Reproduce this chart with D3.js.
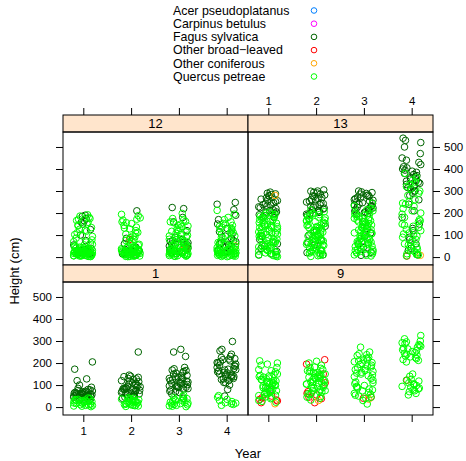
<!DOCTYPE html>
<html>
<head>
<meta charset="utf-8">
<script src="https://cdn.jsdelivr.net/npm/d3@7"></script>
<style>
  body { margin: 0; background: #fff; }
  svg { font-family: "Liberation Sans", Arial, sans-serif; }
</style>
</head>
<body>
<svg id="chart" width="466" height="461"></svg>
<script>
// tree heights by plot, species and year (lattice xyplot, jittered x)
var years = [1, 2, 3, 4];
var plots = ["12", "13", "1", "9"];
var species = ["Acer pseudoplatanus", "Carpinus betulus", "Fagus sylvatica",
               "Other broad\u2212leaved", "Other coniferous", "Quercus petreae"];
var speciesColors = ["#0080ff", "#ff00ff", "#006400", "#ff0000", "#ffa500", "#00ff00"];
var yTicks = [0, 100, 200, 300, 400, 500];

// hand-picked jitter offsets (in year units)
var jitter = [-0.17, 0.10, -0.04, 0.19, -0.14, 0.02, 0.15, -0.10, 0.06, -0.20, 0.12, -0.02, 0.18, -0.07,
              0.04, -0.15, 0.09, -0.11, 0.19, -0.05, 0.14, -0.18, 0.03, 0.10, -0.13, 0.16, -0.03, 0.07,
              -0.20, 0.11, -0.08, 0.05, -0.15, 0.17, -0.06, 0.01, -0.11, 0.15, -0.19, 0.08, -0.01];

// plot 12
var plot12Fagus = [
  [18, 22, 26, 30, 34, 40, 55, 75, 100, 125, 150, 158, 165, 175, 185, 190, 12, 16, 24],
  [15, 18, 22, 25, 28, 32, 38, 45, 60, 85, 210, 10, 14, 20, 26, 30],
  [20, 25, 30, 35, 40, 45, 50, 55, 60, 65, 70, 75, 80, 90, 120, 160, 180, 220, 225, 28, 42, 58, 66, 15],
  [20, 25, 35, 45, 55, 65, 75, 85, 95, 105, 115, 130, 150, 170, 190, 215, 240, 248, 60, 70, 30]
];
var plot12Broad = [[], [80], [38], []];
var plot12Conif = [[], [], [32], [50]];
var plot12Quercus = [
  [4, 6, 8, 10, 12, 14, 16, 18, 20, 22, 24, 26, 28, 30, 33, 36, 40, 44, 48, 52, 58, 64, 70, 78, 86, 94, 102,
   110, 118, 126, 134, 142, 150, 158, 166, 172, 180, 186, 192, 5, 9, 13, 17, 21, 25, 29, 35, 42, 55, 68, 96,
   122, 145, 175, 3, 7, 11, 15, 19, 23, 27, 31, 2, 6, 10, 14, 18, 24, 30, 37, 5, 9, 13, 17, 21, 26, 32, 39, 45],
  [3, 6, 9, 12, 15, 18, 21, 24, 27, 30, 34, 38, 43, 48, 54, 60, 66, 73, 80, 88, 96, 104, 112, 120, 128, 136,
   144, 152, 160, 168, 178, 188, 194, 5, 11, 17, 23, 29, 36, 45, 58, 75, 92, 108, 132, 156, 172, 2, 8, 14,
   20, 26, 32, 4, 10, 16, 22, 28, 35, 7, 13, 19, 25, 31, 40, 3, 9, 15, 21, 27],
  [4, 7, 10, 13, 16, 19, 22, 25, 28, 32, 36, 40, 45, 50, 55, 60, 66, 72, 78, 84, 90, 96, 102, 108, 114, 120,
   126, 132, 138, 144, 150, 156, 162, 168, 6, 12, 18, 24, 30, 38, 47, 62, 81, 99, 117, 141, 160, 175, 198,
   3, 9, 15, 21, 27, 33, 5, 11, 17, 23, 29, 42, 8, 14, 20, 26, 52, 70, 88],
  [3, 6, 9, 12, 15, 18, 21, 25, 29, 33, 38, 43, 48, 54, 60, 66, 72, 80, 88, 96, 104, 112, 120, 128, 136, 144,
   152, 160, 170, 180, 195, 212, 5, 10, 16, 22, 28, 35, 45, 58, 74, 90, 110, 130, 150, 125, 140, 2, 8, 14,
   20, 26, 32, 4, 11, 17, 23, 30, 40, 7, 13, 19, 36, 50, 65]
];

// plot 13
var plot13Fagus = [
  [180, 188, 196, 204, 212, 220, 228, 236, 244, 252, 260, 268, 276, 284, 290, 295, 183, 199, 215, 231, 247,
   263, 279, 192, 224, 256, 287, 10, 25, 40, 60, 80, 95, 15, 50, 205, 238, 270],
  [190, 198, 206, 214, 222, 230, 238, 246, 254, 262, 270, 278, 286, 294, 300, 305, 195, 211, 227, 243, 259,
   275, 291, 203, 235, 267, 299, 10, 30, 55, 75, 100, 120, 20, 65, 140, 218, 250, 282],
  [195, 202, 209, 216, 223, 230, 237, 244, 251, 258, 265, 272, 279, 286, 293, 300, 198, 212, 226, 240, 254,
   268, 282, 296, 205, 233, 261, 289, 8, 22, 45, 70, 95, 130, 160, 15, 60, 110, 219, 247, 275],
  [280, 290, 300, 310, 320, 330, 340, 350, 360, 370, 380, 390, 400, 410, 420, 430, 450, 470, 500, 520, 540,
   530, 300, 315, 335, 345, 365, 385, 395, 405, 10, 30, 60, 90, 120, 150, 180, 210, 240, 260, 40, 80, 130,
   325, 355, 375, 440]
];
var plot13Broad = [[], [], [], [5]];
var plot13Conif = [[280], [], [], [8]];
var plot13Quercus = [
  [4, 9, 14, 19, 24, 29, 34, 39, 44, 49, 54, 59, 64, 69, 74, 79, 84, 89, 94, 99, 104, 109, 114, 119, 124, 129,
   134, 139, 144, 149, 154, 159, 164, 169, 174, 179, 184, 189, 194, 199, 204, 12, 27, 41, 57, 71, 87, 103,
   117, 133, 147, 163, 177, 193, 7, 36, 66, 96, 126, 156, 186, 2, 22, 46, 82, 108, 138, 170, 51, 111, 141, 9],
  [3, 8, 13, 18, 23, 28, 33, 38, 43, 48, 53, 58, 63, 68, 73, 78, 83, 88, 93, 98, 103, 108, 113, 118, 123, 128,
   133, 138, 143, 148, 153, 158, 163, 168, 173, 178, 183, 188, 193, 198, 206, 214, 16, 31, 46, 61, 76, 91,
   106, 121, 136, 151, 166, 181, 196, 11, 41, 71, 101, 131, 161, 6, 26, 56, 86, 116, 146, 176, 36, 66, 96],
  [5, 10, 15, 20, 25, 30, 35, 40, 45, 50, 55, 60, 65, 70, 75, 80, 85, 90, 95, 100, 105, 110, 115, 120, 125,
   130, 135, 140, 145, 150, 155, 160, 165, 170, 175, 180, 185, 190, 195, 200, 210, 220, 232, 245, 18, 33, 48,
   63, 78, 93, 108, 123, 138, 153, 168, 183, 198, 26, 56, 86, 116, 146, 176, 8, 38, 68, 102, 132, 162, 215],
  [5, 10, 20, 30, 45, 60, 75, 90, 105, 120, 135, 150, 165, 180, 200, 220, 240, 260, 280, 300, 320, 340, 360,
   380, 15, 35, 55, 80, 110, 140, 170, 195, 230, 250, 290, 310, 330, 350, 25, 65, 100, 125, 160, 12, 48,
   95, 145, 210, 245]
];

// plot 1
var plot1Fagus = [
  [30, 34, 38, 42, 45, 48, 50, 52, 55, 58, 60, 62, 65, 68, 70, 72, 75, 78, 80, 40, 46, 53, 57, 63, 67, 73, 36,
   44, 56, 64, 205, 172, 120, 128, 100, 90, 85, 47, 54, 61],
  [40, 45, 50, 55, 60, 65, 70, 75, 80, 85, 90, 95, 100, 105, 110, 115, 120, 125, 130, 135, 140, 145, 48, 58,
   68, 78, 88, 98, 108, 118, 128, 138, 62, 72, 82, 92, 250, 66, 76, 86],
  [60, 66, 72, 78, 84, 90, 96, 102, 108, 114, 120, 126, 132, 138, 144, 150, 156, 162, 168, 174, 180, 70, 82,
   94, 106, 118, 130, 142, 154, 166, 88, 100, 112, 124, 136, 262, 250, 230, 40, 92, 104],
  [50, 80, 100, 110, 120, 125, 130, 135, 140, 145, 150, 155, 160, 165, 170, 175, 180, 185, 190, 195, 200, 205,
   210, 215, 220, 225, 230, 240, 255, 262, 298, 128, 142, 158, 172, 188, 202, 218, 112, 138, 148, 168]
];
var plot1Quercus = [
  [2, 5, 8, 11, 14, 17, 20, 23, 26, 29, 32, 35, 38, 41, 4, 10, 16, 22, 28, 34, 7, 13, 19, 25, 31],
  [3, 6, 9, 12, 15, 18, 21, 24, 27, 30, 33, 36, 40, 42, 5, 11, 17, 23, 29, 35, 8, 14, 20, 26, 38],
  [2, 6, 10, 14, 18, 22, 26, 30, 34, 38, 42, 48, 55, 4, 12, 20, 28, 36, 8, 16],
  [8, 12, 15, 20, 25, 30, 35, 45, 52, 18]
];

// plot 9
var plot9Carpinus = [[80], [], [], []];
var plot9Broad = [
  [20, 28, 35, 42, 50, 58, 32],
  [20, 38, 45, 55, 62, 70, 110, 150, 195, 215],
  [45, 40],
  [122]
];
var plot9Conif = [[15], [30], [36], []];
var plot9Quercus = [
  [22, 30, 38, 46, 54, 60, 66, 72, 78, 84, 90, 96, 102, 108, 114, 120, 126, 132, 138, 144, 150, 160, 170, 180,
   190, 200, 210, 26, 42, 58, 74, 88, 100, 112, 124, 136, 148, 64, 80, 94, 106, 118, 52, 70, 86, 98, 110, 128,
   142, 165, 195],
  [32, 40, 48, 56, 62, 68, 74, 80, 86, 92, 98, 104, 110, 116, 122, 128, 134, 140, 146, 152, 158, 164, 170, 176,
   182, 190, 200, 208, 45, 60, 75, 90, 105, 120, 135, 150, 165, 180, 70, 85, 100, 115, 130, 145, 160, 95, 110,
   125, 138, 155],
  [130, 138, 146, 154, 162, 170, 178, 186, 194, 202, 210, 218, 226, 234, 242, 250, 272, 142, 158, 174, 190,
   206, 222, 150, 182, 214, 198, 166, 238, 30, 40, 50, 58, 66, 74, 82, 90, 98, 106, 114, 122, 45, 62, 78, 94,
   110, 54, 86, 14],
  [205, 212, 220, 228, 236, 244, 252, 260, 268, 276, 284, 292, 300, 310, 325, 216, 232, 248, 264, 280, 296,
   224, 256, 288, 240, 272, 55, 62, 70, 78, 86, 94, 102, 110, 118, 126, 140, 150, 74, 90, 106, 122, 82, 98]
];

// species order: Acer, Carpinus, Fagus, Other broad-leaved, Other coniferous, Quercus
var none = [[], [], [], []];
var heights = {
  "12": [none, none, plot12Fagus, plot12Broad, plot12Conif, plot12Quercus],
  "13": [none, none, plot13Fagus, plot13Broad, plot13Conif, plot13Quercus],
  "1": [none, none, plot1Fagus, none, none, plot1Quercus],
  "9": [none, plot9Carpinus, none, plot9Broad, plot9Conif, plot9Quercus]
};

var svg = d3.select("#chart");
var stripH = 17, panelH = 133;
var columns = [63, 248], colW = 185;
var rows = [115, 265];
// panel position: plots 12, 13 on top, 1, 9 below
var panelPos = { "12": [0, 0], "13": [1, 0], "1": [0, 1], "9": [1, 1] };

function xScaleFor(col) {
  return d3.scaleLinear().domain([0.575, 4.446]).range([columns[col], columns[col] + colW]);
}
function yScaleFor(row) {
  var top = rows[row] + stripH;
  return d3.scaleLinear().domain([-36, 568]).range([top + panelH, top]);
}

// legend
var legend = svg.append("g").attr("class", "legend");
species.forEach(function(s, i) {
  var y = 10.5 + i * 13.2;
  legend.append("text").attr("x", 173).attr("y", y).attr("dy", "0.35em")
    .style("font-size", "12.4px").text(s);
  legend.append("circle").attr("cx", 314).attr("cy", y).attr("r", 2.8)
    .attr("fill", "none").attr("stroke", speciesColors[i]).attr("stroke-width", 1);
});

function styleAxis(g, showLabels) {
  g.select(".domain").remove();
  g.selectAll(".tick line").attr("stroke", "#000");
  g.selectAll(".tick text").style("font-size", "11.5px").attr("fill", "#000");
  if (!showLabels) g.selectAll(".tick text").remove();
}

plots.forEach(function(p) {
  var col = panelPos[p][0], row = panelPos[p][1];
  var x = xScaleFor(col), y = yScaleFor(row);
  var x0 = columns[col], top = rows[row];
  var g = svg.append("g").attr("class", "panel");

  // points
  heights[p].forEach(function(byYear, s) {
    byYear.forEach(function(hs, yi) {
      g.selectAll(null)
        .data(hs)
        .enter().append("circle")
        .attr("cx", function(d, i) { return x(years[yi] + jitter[(i * 3 + s * 5 + yi * 11) % jitter.length]); })
        .attr("cy", function(d) { return y(d); })
        .attr("r", 3.3)
        .attr("fill", "none")
        .attr("stroke", speciesColors[s])
        .attr("stroke-width", 1);
    });
  });

  // strip
  g.append("rect").attr("x", x0).attr("y", top).attr("width", colW).attr("height", stripH)
    .attr("fill", "#ffe5cc").attr("stroke", "#000").attr("stroke-width", 1);
  g.append("text").attr("x", x0 + colW / 2).attr("y", top + stripH / 2).attr("dy", "0.36em")
    .attr("text-anchor", "middle").style("font-size", "13px").text(p);
  // panel border
  g.append("rect").attr("x", x0).attr("y", top + stripH).attr("width", colW).attr("height", panelH)
    .attr("fill", "none").attr("stroke", "#000").attr("stroke-width", 1);

  // axes
  var fmt = d3.format("d");
  if (row === 0) {
    svg.append("g").attr("transform", "translate(0," + top + ")")
      .call(d3.axisTop(x).tickValues(years).tickFormat(fmt).tickSize(7).tickPadding(3))
      .call(styleAxis, col === 1);
  } else {
    svg.append("g").attr("transform", "translate(0," + (top + stripH + panelH) + ")")
      .call(d3.axisBottom(x).tickValues(years).tickFormat(fmt).tickSize(7).tickPadding(5))
      .call(styleAxis, col === 0);
  }
  if (col === 0) {
    svg.append("g").attr("transform", "translate(" + x0 + ",0)")
      .call(d3.axisLeft(y).tickValues(yTicks).tickFormat(fmt).tickSize(7).tickPadding(4))
      .call(styleAxis, row === 1);
  } else {
    svg.append("g").attr("transform", "translate(" + (x0 + colW) + ",0)")
      .call(d3.axisRight(y).tickValues(yTicks).tickFormat(fmt).tickSize(7).tickPadding(4))
      .call(styleAxis, row === 0);
  }
});

// axis titles
svg.append("text").attr("x", 248).attr("y", 453).attr("dy", "0.35em")
  .attr("text-anchor", "middle").style("font-size", "13px").text("Year");
svg.append("text").attr("transform", "translate(14,271) rotate(-90)").attr("dy", "0.35em")
  .attr("text-anchor", "middle").style("font-size", "13px").text("Height (cm)");
</script>
</body>
</html>
